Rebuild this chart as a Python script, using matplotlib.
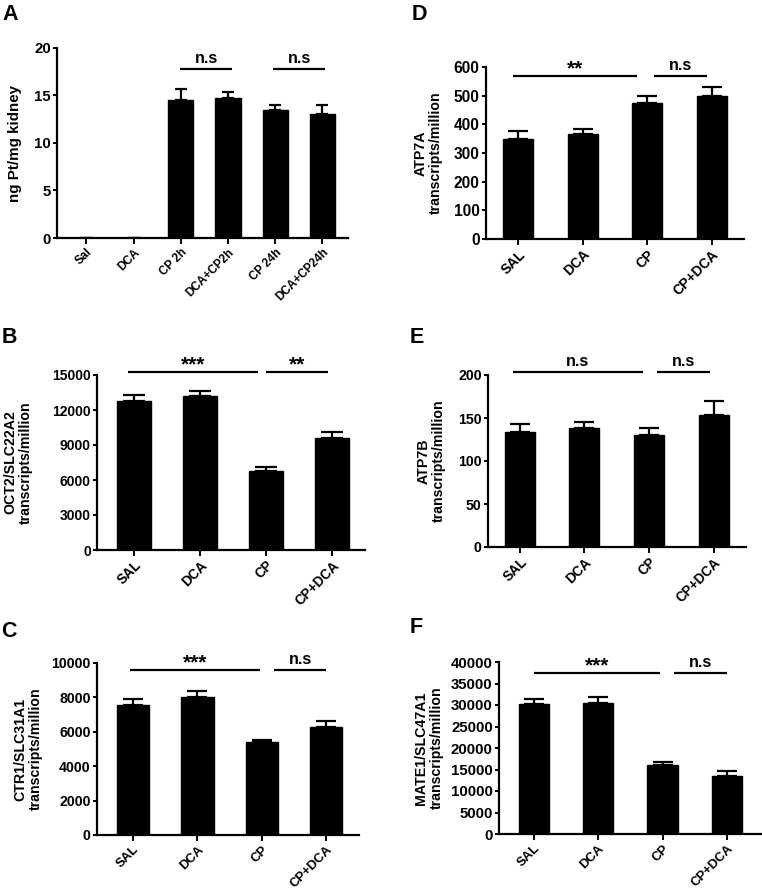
import matplotlib
matplotlib.use("Agg")
import matplotlib.pyplot as plt

plt.rcParams["font.family"] = ["Liberation Sans", "DejaVu Sans"]
plt.rcParams["font.weight"] = "bold"

W, H = 762, 892

# --- data ---
groups_a = ["Sal", "DCA", "CP 2h", "DCA+CP2h", "CP 24h", "DCA+CP24h"]
groups = ["SAL", "DCA", "CP", "CP+DCA"]

pt_kidney = [0, 0, 14.5, 14.7, 13.5, 13.0]
pt_kidney_err = [0, 0, 1.2, 0.7, 0.5, 1.0]

oct2 = [12800, 13200, 6800, 9600]
oct2_err = [450, 450, 300, 500]

ctr1 = [7550, 8000, 5400, 6300]
ctr1_err = [330, 370, 100, 300]

atp7a = [348, 368, 475, 500]
atp7a_err = [28, 17, 25, 30]

atp7b = [134, 138, 130, 153]
atp7b_err = [9, 7, 8, 17]

mate1 = [30200, 30400, 16000, 13400]
mate1_err = [1300, 1500, 800, 1200]

# significance bars: (x0, x1, y, label)
sig_a = [(1.98, 3.09, 17.8, "n.s"), (3.96, 5.05, 17.8, "n.s")]
sig_b = [(-0.09, 1.88, 15250, "***"), (2.0, 2.94, 15250, "**")]
sig_c = [(-0.05, 1.97, 9590, "***"), (2.19, 3.0, 9590, "n.s")]
sig_d = [(-0.08, 1.84, 568, "**"), (2.1, 2.93, 568, "n.s")]
sig_e = [(-0.1, 1.9, 203, "n.s"), (2.13, 2.94, 203, "n.s")]
sig_f = [(0.0, 1.96, 37440, "***"), (2.18, 3.0, 37440, "n.s")]

panels = [
    dict(letter="A", box=(57, 48, 348, 238), xlim=(-0.62, 5.54), ylim=20,
         yticks=[0, 5, 10, 15, 20], names=groups_a, vals=pt_kidney, errs=pt_kidney_err,
         sig=sig_a, ylabel="ng Pt/mg kidney", labx=-0.12, lab_fs=10.9, tick_fs=10.8,
         xfs=8.5, cap=4.2, width=0.53, letter_xy=(2, 20)),
    dict(letter="D", box=(486, 67, 744, 239), xlim=(-0.5, 3.5), ylim=600,
         yticks=[0, 100, 200, 300, 400, 500, 600], names=groups, vals=atp7a, errs=atp7a_err,
         sig=sig_d, ylabel="ATP7A\ntranscripts/million", labx=-0.167, lab_fs=10.2,
         tick_fs=11.2, xfs=10, cap=7.2, width=0.47, letter_xy=(412, 20)),
    dict(letter="B", box=(97, 375, 365, 550), xlim=(-0.56, 3.5), ylim=15000,
         yticks=[0, 3000, 6000, 9000, 12000, 15000], names=groups, vals=oct2, errs=oct2_err,
         sig=sig_b, ylabel="OCT2/SLC22A2\ntranscripts/million", labx=-0.239, lab_fs=10.2,
         tick_fs=10, xfs=9.8, cap=7.8, width=0.51, letter_xy=(2, 343)),
    dict(letter="E", box=(488, 375, 746, 547), xlim=(-0.49, 3.5), ylim=200,
         yticks=[0, 50, 100, 150, 200], names=groups, vals=atp7b, errs=atp7b_err,
         sig=sig_e, ylabel="ATP7B\ntranscripts/million", labx=-0.163, lab_fs=10.2,
         tick_fs=10.2, xfs=9.8, cap=7.0, width=0.46, letter_xy=(410, 343)),
    dict(letter="C", box=(97, 663, 359, 835), xlim=(-0.56, 3.51), ylim=10000,
         yticks=[0, 2000, 4000, 6000, 8000, 10000], names=groups, vals=ctr1, errs=ctr1_err,
         sig=sig_c, ylabel="CTR1/SLC31A1\ntranscripts/million", labx=-0.206, lab_fs=10.2,
         tick_fs=10.2, xfs=9.4, cap=7.0, width=0.5, letter_xy=(1, 637)),
    dict(letter="F", box=(499, 662, 761, 834), xlim=(-0.54, 3.53), ylim=40000,
         yticks=[0, 5000, 10000, 15000, 20000, 25000, 30000, 35000, 40000], names=groups,
         vals=mate1, errs=mate1_err, sig=sig_f, ylabel="MATE1/SLC47A1\ntranscripts/million",
         labx=-0.21, lab_fs=10.2, tick_fs=10.8, xfs=9.4, cap=7.0, width=0.47,
         letter_xy=(410, 633)),
]

fig = plt.figure(figsize=(W / 100, H / 100), dpi=100)

for p in panels:
    l, t, r, b = p["box"]
    ax = fig.add_axes([l / W, 1 - b / H, (r - l) / W, (b - t) / H])
    xs = list(range(len(p["names"])))
    n = len(xs)
    ax.bar(xs, p["vals"], width=p["width"], color="black", edgecolor="black", zorder=2)
    ax.errorbar(xs, p["vals"], yerr=[[0] * n, p["errs"]], fmt="none", ecolor="black",
                elinewidth=1.6, capsize=p["cap"], capthick=1.6, zorder=3)

    ax.set_xlim(*p["xlim"])
    ax.set_ylim(0, p["ylim"])
    ax.set_yticks(p["yticks"])
    ax.set_xticks(xs)
    ax.set_xticklabels(p["names"], rotation=45, ha="right", va="top",
                       rotation_mode="anchor", fontsize=p["xfs"], fontweight="bold")
    for lab in ax.get_yticklabels():
        lab.set_fontsize(p["tick_fs"])
        lab.set_fontweight("bold")

    for s in ["top", "right"]:
        ax.spines[s].set_visible(False)
    for s in ["left", "bottom"]:
        ax.spines[s].set_linewidth(1.6)
    ax.tick_params(axis="y", length=3, width=1.4, pad=1.5)
    ax.tick_params(axis="x", length=4, width=1.4, pad=2)

    ax.set_ylabel(p["ylabel"], fontsize=p["lab_fs"], fontweight="bold", linespacing=1.15)
    ax.yaxis.set_label_coords(p["labx"], 0.5)

    for x0, x1, y, txt in p["sig"]:
        ax.plot([x0, x1], [y, y], color="black", lw=1.6, clip_on=False,
                solid_capstyle="butt")
        if "*" in txt:
            ax.annotate(txt, xy=((x0 + x1) / 2, y), xytext=(0, 1.0),
                        textcoords="offset points", ha="center", va="baseline",
                        fontsize=15, fontweight="bold", annotation_clip=False)
        else:
            ax.annotate(txt, xy=((x0 + x1) / 2, y), xytext=(0, 4.5),
                        textcoords="offset points", ha="center", va="baseline",
                        fontsize=11.5, fontweight="bold", annotation_clip=False)

    lx, ly = p["letter_xy"]
    fig.text(lx / W, 1 - ly / H, p["letter"], fontsize=15.5, fontweight="bold",
             ha="left", va="baseline")

fig.savefig("out.png", dpi=100, facecolor="white")
